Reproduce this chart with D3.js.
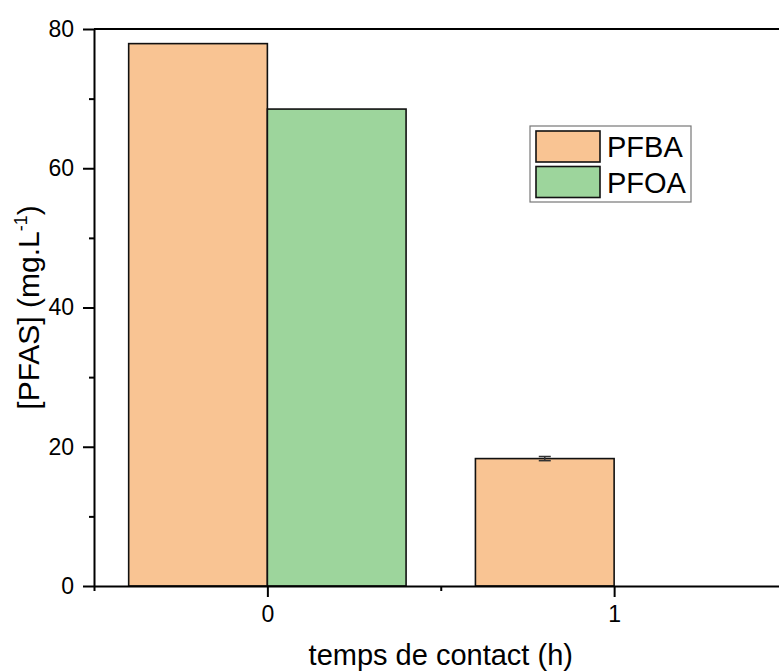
<!DOCTYPE html>
<html>
<head>
<meta charset="utf-8">
<script src="https://cdn.jsdelivr.net/npm/d3@7"></script>
<style>
  html, body { margin: 0; padding: 0; background: #fff; overflow: hidden; }
  svg { display: block; font-family: Arial, "Liberation Sans", sans-serif; }
</style>
</head>
<body>
<svg id="chart" width="779" height="672"></svg>
<script>
const categories = [0, 1];
const categoryLabels = ["0", "1"];
const seriesNames = ["PFBA", "PFOA"];
const pfbaValues = [77.9, 18.3];
const pfoaValues = [68.5, 0];
const pfbaErrors = [0, 0.3];
const pfoaErrors = [0, 0];
const yMajorTicks = [0, 20, 40, 60, 80];
const yMinorTicks = [10, 30, 50, 70];
const xMinorTicks = [-0.5, 0.5, 1.5];
const colors = ["#F9C493", "#9DD59C"];

(function () {
const svg = d3.select("#chart");
const mLeft = 94, mRight = 787.5, mTop = 29, mBottom = 586;
const FONT = "Arial, 'Liberation Sans', sans-serif";

const x = d3.scaleLinear().domain([-0.5, 1.5]).range([mLeft, mRight]);
const y = d3.scaleLinear().domain([0, 80]).range([mBottom, mTop]);

const series = [
  { name: seriesNames[0], values: pfbaValues, errors: pfbaErrors, color: colors[0], offset: -0.4 },
  { name: seriesNames[1], values: pfoaValues, errors: pfoaErrors, color: colors[1], offset: 0 }
];
const barW = 0.4;

// Bars
series.forEach(s => {
  svg.append("g").selectAll("rect")
    .data(categories.map((c, i) => ({ c, v: s.values[i], e: s.errors[i] })).filter(d => d.v > 0))
    .join("rect")
    .attr("x", d => x(d.c + s.offset))
    .attr("y", d => y(d.v))
    .attr("width", d => x(d.c + s.offset + barW) - x(d.c + s.offset))
    .attr("height", d => y(0) - y(d.v))
    .attr("fill", s.color)
    .attr("stroke", "#111")
    .attr("stroke-width", 1.6);
});

// Error bars
series.forEach(s => {
  const g = svg.append("g").attr("stroke", "#333").attr("stroke-width", 1.5);
  categories.forEach((c, i) => {
    const e = s.errors[i];
    if (!e) return;
    const cx = x(c + s.offset + barW / 2);
    const v = s.values[i];
    g.append("line").attr("x1", cx).attr("x2", cx).attr("y1", y(v + e)).attr("y2", y(v - e));
    g.append("line").attr("x1", cx - 6).attr("x2", cx + 6).attr("y1", y(v + e)).attr("y2", y(v + e));
    g.append("line").attr("x1", cx - 6).attr("x2", cx + 6).attr("y1", y(v - e)).attr("y2", y(v - e));
  });
});

// Frame (top and right)
svg.append("line").attr("x1", mLeft).attr("x2", mRight).attr("y1", mTop).attr("y2", mTop)
  .attr("stroke", "#000").attr("stroke-width", 2);
svg.append("line").attr("x1", mRight).attr("x2", mRight).attr("y1", mTop).attr("y2", mBottom)
  .attr("stroke", "#000").attr("stroke-width", 2);

// Y axis
const yAxis = svg.append("g").attr("transform", `translate(${mLeft},0)`)
  .call(d3.axisLeft(y).tickValues(yMajorTicks).tickSize(11).tickSizeOuter(0).tickPadding(9).tickFormat(d3.format("d")));
yAxis.attr("font-size", 23).attr("font-family", FONT);
yAxis.select(".domain").attr("stroke-width", 2).attr("stroke", "#000");
yAxis.selectAll(".tick line").attr("stroke-width", 2).attr("stroke", "#000");
yAxis.selectAll(".tick text").attr("fill", "#000");
svg.append("g").attr("transform", `translate(${mLeft},0)`)
  .call(d3.axisLeft(y).tickValues(yMinorTicks).tickSize(5).tickFormat(""))
  .call(g => g.select(".domain").remove())
  .selectAll(".tick line").attr("stroke-width", 2).attr("stroke", "#000");

// X axis
const xAxis = svg.append("g").attr("transform", `translate(0,${mBottom})`)
  .call(d3.axisBottom(x).tickValues(categories).tickSize(11).tickSizeOuter(0).tickPadding(9)
    .tickFormat((d, i) => categoryLabels[i]));
xAxis.attr("font-size", 23).attr("font-family", FONT);
xAxis.select(".domain").attr("stroke-width", 2).attr("stroke", "#000");
xAxis.selectAll(".tick line").attr("stroke-width", 2).attr("stroke", "#000");
xAxis.selectAll(".tick text").attr("fill", "#000");
svg.append("g").attr("transform", `translate(0,${mBottom})`)
  .call(d3.axisBottom(x).tickValues(xMinorTicks).tickSize(5).tickFormat(""))
  .call(g => g.select(".domain").remove())
  .selectAll(".tick line").attr("stroke-width", 2).attr("stroke", "#000");

// Axis titles
svg.append("text")
  .attr("x", (mLeft + mRight) / 2).attr("y", 665)
  .attr("text-anchor", "middle").attr("font-size", 29).attr("fill", "#000")
  .text("temps de contact (h)");

const yt = svg.append("text")
  .attr("transform", `translate(39,${(mTop + mBottom) / 2}) rotate(-90)`)
  .attr("text-anchor", "middle").attr("font-size", 30).attr("fill", "#000");
yt.append("tspan").text("[PFAS] (mg.L");
yt.append("tspan").attr("font-size", 18).attr("dy", -12).text("-1");
yt.append("tspan").attr("dy", 12).text(")");

// Legend
const lg = svg.append("g");
lg.append("rect").attr("x", 530).attr("y", 126).attr("width", 161).attr("height", 76)
  .attr("fill", "#fff").attr("stroke", "#777").attr("stroke-width", 1.2);
series.forEach((s, i) => {
  const yy = 131 + i * 35.5;
  lg.append("rect").attr("x", 536).attr("y", yy).attr("width", 64).attr("height", 31)
    .attr("fill", s.color).attr("stroke", "#111").attr("stroke-width", 1.6);
  lg.append("text").attr("x", 607).attr("y", yy + 26).attr("font-size", 29).attr("fill", "#000")
    .text(s.name);
});
})();
</script>
</body>
</html>
